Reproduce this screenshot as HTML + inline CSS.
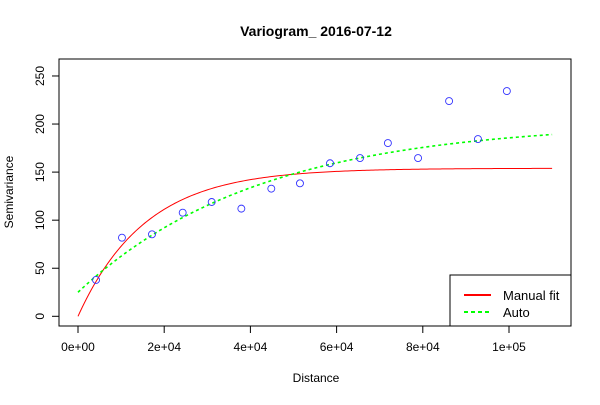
<!DOCTYPE html>
<html><head><meta charset="utf-8"><style>
body{margin:0;background:#fff}
svg text{font-family:"Liberation Sans",sans-serif;fill:#000}
</style></head><body>
<svg id="chart" width="600" height="400" xmlns="http://www.w3.org/2000/svg">
<rect x="0" y="0" width="600" height="400" fill="#fff"/>
<text x="316" y="36" text-anchor="middle" font-size="14" font-weight="bold">Variogram_ 2016-07-12</text>
<text x="316" y="382" text-anchor="middle" font-size="12">Distance</text>
<text transform="translate(13,192) rotate(-90)" text-anchor="middle" font-size="12">Semivariance</text>
<rect x="59" y="59" width="512" height="267" fill="none" stroke="#000" stroke-width="1"/>
<g id="axes"></g>
<g id="marks"></g>
<g>
<rect x="450" y="275" width="121" height="51" fill="#fff" stroke="#000"/>
<line x1="464" y1="295" x2="491" y2="295" stroke="#ff0000" stroke-width="2"/>
<text x="503" y="300" font-size="13">Manual fit</text>
<line x1="464" y1="312" x2="491" y2="312" stroke="#00ff00" stroke-width="2" stroke-dasharray="4,3"/>
<text x="503" y="317" font-size="13">Auto</text>
</g>
</svg>
<script>
const distances=[4180,10200,17170,24290,31020,37900,44850,51500,58470,65430,71900,78900,86100,92800,99500];
const gammas=[37.8,81.8,85.3,107.8,118.9,112,132.8,138.3,159.2,164.6,180.2,164.6,223.9,184.4,234.3];
const xTicks=[0,20000,40000,60000,80000,100000];
const xTickLabels=["0e+00","2e+04","4e+04","6e+04","8e+04","1e+05"];
const yTicks=[0,50,100,150,200,250];
const manualModel={nugget:0,psill:154,range:15600};
const autoModel={nugget:25,psill:177,range:42000};
const maxDist=110000;

const NS="http://www.w3.org/2000/svg";
function sx(d){return 78+d*(509-78)/100000;}
function sy(v){return 316.3-v*0.9613;}
function mk(tag,attrs,parent){const e=document.createElementNS(NS,tag);for(const k in attrs)e.setAttribute(k,attrs[k]);parent.appendChild(e);return e;}
const axes=document.getElementById('axes'),marks=document.getElementById('marks');
xTicks.forEach((t,i)=>{
  const l=mk('line',{x1:sx(t),x2:sx(t),y1:326,y2:333,stroke:'#000'},axes);
  
  
  const tx=mk('text',{x:sx(t),y:351,'text-anchor':'middle','font-size':'12'},axes);
  tx.textContent=xTickLabels[i];
  
  
});
yTicks.forEach(t=>{
  const l=mk('line',{x1:52,x2:59,y1:sy(t),y2:sy(t),stroke:'#000'},axes);
  
  
  const tx=mk('text',{transform:`translate(44,${sy(t)}) rotate(-90)`,'text-anchor':'middle','font-size':'12'},axes);
  tx.textContent=String(t);
  
  
});
function expModel(m,d){return m.nugget+m.psill*(1-Math.exp(-d/m.range));}
function curve(m){let p='';for(let i=0;i<=220;i++){const d=maxDist*i/220;p+=(i?'L':'M')+sx(d).toFixed(2)+','+sy(expModel(m,d)).toFixed(2);}return p;}
const red=mk('path',{d:curve(manualModel),fill:'none',stroke:'#ff0000','stroke-width':'1'},marks);


const grn=mk('path',{d:curve(autoModel),fill:'none',stroke:'#00ff00','stroke-width':'1.6','stroke-dasharray':'3,3'},marks);


distances.forEach((d,i)=>{
  const c=mk('circle',{cx:sx(d),cy:sy(gammas[i]),r:3.5,fill:'none',stroke:'#3333ff','stroke-width':'0.9'},marks);
  
  
});
</script>
</body></html>
